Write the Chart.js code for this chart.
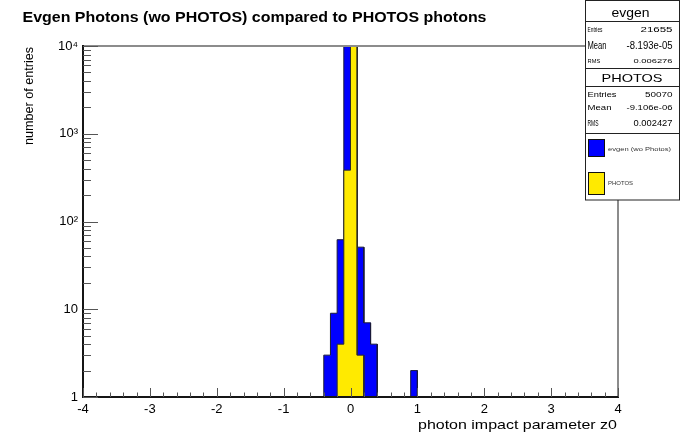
<!DOCTYPE html>
<html>
<head>
<meta charset="utf-8">
<title>Evgen Photons (wo PHOTOS) compared to PHOTOS photons</title>
<script src="https://cdn.jsdelivr.net/npm/chart.js@4.4.1/dist/chart.umd.min.js"></script>
<style>
  html, body { margin: 0; padding: 0; background: #fff; }
  canvas { display: block; }
</style>
</head>
<body>
<canvas id="histChart" width="681" height="433"></canvas>
<script>
// filled bins: low edge of each bin (bins are 0.1 wide) and the number of entries
const binWidth = 0.1;
const evgenLow = [-0.4, -0.3, -0.2, -0.1, 0.0, 0.1, 0.2, 0.3, 0.9];
const evgenCounts = [3, 9, 62, 10760, 10757, 51, 7, 4, 2];
const photosLow = [-0.2, -0.1, 0.0, 0.1];
const photosCounts = [4, 385, 49678, 3];

// axis ticks
const xTicks = [-4, -3, -2, -1, 0, 1, 2, 3, 4];
const yTicks = [1, 10, 100, 1000, 10000];
const yTickLabels = ['1', '10', '10\u00b2', '10\u00b3', '10\u2074'];

// statistics box
const evgenStats = [['Entries', '21655'], ['Mean', '-8.193e-05'], ['RMS', '0.006276']];
const photosStats = [['Entries', '50070'], ['Mean', '-9.106e-06'], ['RMS', '0.002427']];
const legendLabels = ['evgen (wo Photos)', 'PHOTOS'];

const FONT = '"Liberation Sans", Arial, Helvetica, sans-serif';
const BLUE = '#0000ff';
const YELLOW = '#ffea00';
const EMPTY = 0.5; // below the log axis floor, so empty stretches hide under the frame

// turn bins into the outline of a histogram (corner points)
function histOutline(lows, counts) {
  const pts = [];
  lows.forEach((lo, i) => {
    const hi = +(lo + binWidth).toFixed(3);
    const prevHi = i > 0 ? +(lows[i - 1] + binWidth).toFixed(3) : null;
    if (prevHi === null || Math.abs(prevHi - lo) > 1e-9) pts.push({ x: lo, y: EMPTY });
    pts.push({ x: lo, y: counts[i] });
    pts.push({ x: hi, y: counts[i] });
    const next = lows[i + 1];
    if (next === undefined || Math.abs(next - hi) > 1e-9) pts.push({ x: hi, y: EMPTY });
  });
  return pts;
}

// draw text stretched to a given width (the old ROOT rendering is wide)
function wideText(ctx, text, x, y, size, width, align, weight) {
  ctx.save();
  ctx.font = (weight || 'normal') + ' ' + size + 'px ' + FONT;
  const w = ctx.measureText(text).width;
  const x0 = align === 'right' ? x - width : align === 'center' ? x - width / 2 : x;
  ctx.translate(x0, y);
  ctx.scale(width / w, 1);
  ctx.textAlign = 'left';
  ctx.textBaseline = 'alphabetic';
  ctx.fillText(text, 0, 0);
  ctx.restore();
}

const rootFrame = {
  id: 'rootFrame',
  afterDraw(chart) {
    const ctx = chart.ctx;
    const { left, right, top, bottom } = chart.chartArea;
    const xs = chart.scales.x;
    const ys = chart.scales.y;
    ctx.save();

    // frame: grey top/right, dark axes left/bottom
    ctx.lineWidth = 2;
    ctx.strokeStyle = '#8c8c8c';
    ctx.beginPath();
    ctx.moveTo(left, top);
    ctx.lineTo(right, top);
    ctx.lineTo(right, bottom);
    ctx.stroke();
    ctx.strokeStyle = '#151515';
    ctx.beginPath();
    ctx.moveTo(left, top - 1);
    ctx.lineTo(left, bottom);
    ctx.lineTo(right + 1, bottom);
    ctx.stroke();

    // ticks point into the frame
    ctx.lineWidth = 1;
    ctx.strokeStyle = '#555';
    ctx.beginPath();
    for (let k = 0; k <= 4; k++) {
      const base = Math.pow(10, k);
      const py = Math.round(ys.getPixelForValue(base)) + 0.5;
      ctx.moveTo(left, py);
      ctx.lineTo(left + 15, py);
      if (k === 4) break;
      for (let m = 2; m <= 9; m++) {
        const my = Math.round(ys.getPixelForValue(m * base)) + 0.5;
        ctx.moveTo(left, my);
        ctx.lineTo(left + 8, my);
      }
    }
    for (let i = 0; i <= 40; i++) {
      const v = -4 + i * 0.2;
      const px = Math.round(xs.getPixelForValue(v)) + 0.5;
      const len = i % 5 === 0 ? 9 : 4.5;
      ctx.moveTo(px, bottom);
      ctx.lineTo(px, bottom - len);
    }
    ctx.stroke();

    // titles
    ctx.fillStyle = '#000';
    wideText(ctx, 'Evgen Photons (wo PHOTOS) compared to PHOTOS photons', 22.5, 21.5, 15, 464, 'left', 'bold');
    wideText(ctx, 'photon impact parameter z0', 617, 429, 13, 199, 'right');
    ctx.save();
    ctx.translate(33, 47);
    ctx.rotate(-Math.PI / 2);
    wideText(ctx, 'number of entries', 0, 0, 13, 98, 'right');
    ctx.restore();

    // statistics box
    const bl = 585.5, br = 679.5;
    ctx.fillStyle = '#fff';
    ctx.fillRect(bl, 0, br - bl, 200);
    ctx.strokeStyle = '#222';
    ctx.lineWidth = 1;
    ctx.strokeRect(bl, 0.5, br - bl, 199.5);
    ctx.beginPath();
    [21.5, 68.5, 86.5, 133.5].forEach(y => {
      ctx.moveTo(bl, y);
      ctx.lineTo(br, y);
    });
    ctx.stroke();

    ctx.fillStyle = '#000';
    wideText(ctx, 'evgen', 630.5, 16.5, 12, 38, 'center');
    const evRows = [[31.7, 7, 15, 32], [49, 10, 19, 46], [62.7, 6, 12.7, 39]];
    evgenStats.forEach((row, i) => {
      const [y, size, lw, vw] = evRows[i];
      wideText(ctx, row[0], 587.5, y, size, lw, 'left');
      wideText(ctx, row[1], 672.5, y, size, vw, 'right');
    });
    wideText(ctx, 'PHOTOS', 632, 82.3, 11.5, 61, 'center');
    const phRows = [[96.7, 7, 29, 27.6], [110, 7, 24, 46], [126, 9, 11, 39]];
    photosStats.forEach((row, i) => {
      const [y, size, lw, vw] = phRows[i];
      wideText(ctx, row[0], 587.5, y, size, lw, 'left');
      wideText(ctx, row[1], 672.5, y, size, vw, 'right');
    });

    // legend entries
    ctx.fillStyle = BLUE;
    ctx.fillRect(588.5, 139.5, 16, 17);
    ctx.strokeStyle = '#111';
    ctx.strokeRect(588.5, 139.5, 16, 17);
    ctx.fillStyle = YELLOW;
    ctx.fillRect(588.5, 172.5, 16, 22);
    ctx.strokeRect(588.5, 172.5, 16, 22);
    ctx.fillStyle = '#333';
    wideText(ctx, legendLabels[0], 608, 150.5, 6, 63, 'left');
    wideText(ctx, legendLabels[1], 608, 185, 6, 25, 'left');

    ctx.restore();
  }
};

new Chart(document.getElementById('histChart'), {
  type: 'line',
  data: {
    datasets: [
      {
        label: legendLabels[1],
        data: histOutline(photosLow, photosCounts),
        backgroundColor: YELLOW,
        borderColor: '#2a2a2a',
        borderWidth: 1,
        fill: 'start',
        order: 0
      },
      {
        label: legendLabels[0],
        data: histOutline(evgenLow, evgenCounts),
        backgroundColor: BLUE,
        borderColor: '#1a1a3a',
        borderWidth: 1,
        fill: 'start',
        order: 1
      }
    ]
  },
  options: {
    responsive: false,
    animation: false,
    devicePixelRatio: 1,
    elements: {
      point: { radius: 0, hoverRadius: 0 },
      line: { tension: 0 }
    },
    layout: { padding: { top: 46, right: 63, left: 0, bottom: 0 } },
    plugins: {
      legend: { display: false },
      tooltip: { enabled: false }
    },
    scales: {
      x: {
        type: 'linear',
        min: -4,
        max: 4,
        grid: { display: false, drawTicks: false },
        border: { display: false },
        afterBuildTicks: scale => { scale.ticks = xTicks.map(v => ({ value: v })); },
        afterFit: scale => { scale.height = 36; },
        ticks: {
          padding: 5,
          color: '#000',
          maxRotation: 0,
          autoSkip: false,
          font: { family: FONT, size: 13 },
          callback: v => String(v)
        }
      },
      y: {
        type: 'logarithmic',
        min: 1,
        max: 10000,
        grid: { display: false, drawTicks: false },
        border: { display: false },
        afterBuildTicks: scale => { scale.ticks = yTicks.map(v => ({ value: v })); },
        afterFit: scale => { scale.width = 83; },
        ticks: {
          padding: 5,
          color: '#000',
          autoSkip: false,
          font: { family: FONT, size: 13 },
          callback: (v, i) => yTickLabels[i]
        }
      }
    }
  },
  plugins: [rootFrame]
});
</script>
</body>
</html>
